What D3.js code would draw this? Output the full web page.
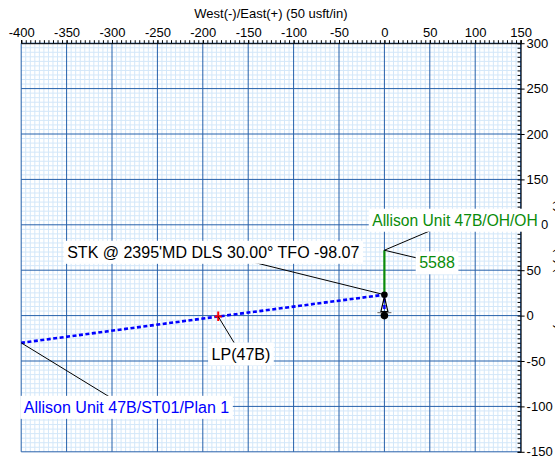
<!DOCTYPE html>
<html><head><meta charset="utf-8">
<script src="https://cdn.jsdelivr.net/npm/d3@7"></script>
<style>body{margin:0;background:#fff}svg{display:block}text{font-family:"Liberation Sans",Arial,sans-serif}</style>
</head><body>
<svg id="c" width="555" height="456"></svg>
<script>
// ---- data ----
const xTickValues = [-400,-350,-300,-250,-200,-150,-100,-50,0,50,100,150];
const yTickValues = [300,250,200,150,100,50,0,-50,-100,-150];
const xTitle = "West(-)/East(+) (50 usft/in)";
const yTitle = "South(-)/North(+) (50 usft/in)";
// planned sidetrack (blue dashed): from wellhead up to KOP, then west
const planX = [0, 0, -183, -400];
const planY = [0, 23, -1, -30];
// actual OH (green)
const ohX = [0, 0];
const ohY = [23, 72];
const stkPoint = [0, 23];
const lpPoint = [-183, -1];
const wellhead = [0, 0];
const labelTexts = ["Allison Unit 47B/OH/OH", "5588", "STK @ 2395'MD DLS 30.00° TFO -98.07", "LP(47B)", "Allison Unit 47B/ST01/Plan 1"];
const labelAnchorX = [0, 0, 0, -183, -400];
const labelAnchorY = [72, 72, 23, -1, -30];

// ---- layout ----
const svg = d3.select("#c");
const x = d3.scaleLinear().domain([-400,150]).range([21.2,520.6]);
const y = d3.scaleLinear().domain([300,-150]).range([43.2,451.8]);
const majorCol = "#2560aa", minorCol = "#d3e7f9";
const blue = "#0000ff", green = "#0a8c0a";

svg.append("rect").attr("width",555).attr("height",456).attr("fill","#fff");

const grid = svg.append("g");
const minorX = d3.range(-400,151,5), minorY = d3.range(-150,301,5);
grid.selectAll(".mx").data(minorX.filter(d=>d%50!==0)).join("line")
  .attr("x1",d=>x(d)).attr("x2",d=>x(d)).attr("y1",y(300)).attr("y2",y(-150))
  .attr("stroke",minorCol).attr("stroke-width",1);
grid.selectAll(".my").data(minorY.filter(d=>d%50!==0)).join("line")
  .attr("y1",d=>y(d)).attr("y2",d=>y(d)).attr("x1",x(-400)).attr("x2",x(150))
  .attr("stroke",minorCol).attr("stroke-width",1);
grid.selectAll(".Mx").data(xTickValues).join("line")
  .attr("x1",d=>x(d)).attr("x2",d=>x(d)).attr("y1",y(300)).attr("y2",y(-150))
  .attr("stroke",majorCol).attr("stroke-width",1);
grid.selectAll(".My").data(yTickValues).join("line")
  .attr("y1",d=>y(d)).attr("y2",d=>y(d)).attr("x1",x(-400)).attr("x2",x(150))
  .attr("stroke",majorCol).attr("stroke-width",1);

// top axis
const topMinor = svg.append("g").attr("transform",`translate(0,${y(300)})`)
  .call(d3.axisTop(x).tickValues(minorX).tickSize(3).tickFormat(""));
topMinor.selectAll("line").attr("stroke","#000");
topMinor.select(".domain").attr("stroke","#000");
const topAx = svg.append("g").attr("transform",`translate(0,${y(300)})`)
  .call(d3.axisTop(x).tickValues(xTickValues).tickSize(3).tickPadding(3).tickFormat(d=>String(d)));
topAx.select(".domain").remove();
topAx.selectAll("line").attr("stroke","#000");
topAx.selectAll("text").attr("font-size",13).attr("font-family",'"Liberation Sans",Arial,sans-serif').attr("fill","#000");

// right axis
const rMinor = svg.append("g").attr("transform",`translate(${x(150)},0)`)
  .call(d3.axisRight(y).tickValues(minorY).tickSize(-3).tickFormat(""));
rMinor.selectAll("line").attr("stroke","#000");
rMinor.select(".domain").attr("stroke","#000");
const rAx = svg.append("g").attr("transform",`translate(${x(150)},0)`)
  .call(d3.axisRight(y).tickValues(yTickValues).tickSize(4).tickPadding(2).tickFormat(d=>String(d)));
rAx.select(".domain").remove();
rAx.selectAll("line").attr("stroke","#000");
rAx.selectAll("text").attr("font-size",13).attr("font-family",'"Liberation Sans",Arial,sans-serif').attr("fill","#000");

// titles
svg.append("text").attr("x",(x(-400)+x(150))/2).attr("y",18).attr("text-anchor","middle")
  .attr("font-size",13).text(xTitle);
svg.append("text").attr("transform",`translate(556,${(y(300)+y(-150))/2}) rotate(90)`)
  .attr("text-anchor","middle").attr("font-size",13).text(yTitle);

// ---- wellpaths ----
const line = d3.line();
svg.append("path").attr("d",line(ohX.map((d,i)=>[x(d),y(ohY[i])])))
  .attr("stroke",green).attr("stroke-width",2.2).attr("fill","none");
svg.append("path").attr("d",line(planX.map((d,i)=>[x(d),y(planY[i])])))
  .attr("stroke",blue).attr("stroke-width",2.6).attr("stroke-dasharray","4,2.5").attr("fill","none");

// wellhead symbol
const wx = x(wellhead[0]), wy = y(wellhead[1]);
svg.append("path").attr("d",`M${wx},${wy-19}L${wx-3.5},${wy-4}L${wx+3.5},${wy-4}Z`)
  .attr("fill","none").attr("stroke","#000").attr("stroke-width",1.2);
svg.append("line").attr("x1",wx-7).attr("x2",wx+7).attr("y1",wy-3).attr("y2",wy-3)
  .attr("stroke","#777").attr("stroke-width",1.2);
svg.append("circle").attr("cx",wx).attr("cy",wy).attr("r",3.8).attr("fill","#000");

// STK dot
svg.append("circle").attr("cx",x(stkPoint[0])).attr("cy",y(stkPoint[1])).attr("r",3.3).attr("fill","#000");
// LP marker
const lx = x(lpPoint[0]), ly = y(lpPoint[1]);
svg.append("path").attr("d",`M${lx},${ly-5}V${ly+4.5}M${lx-3.5},${ly}H${lx+3.5}`)
  .attr("stroke","#ff0000").attr("stroke-width",2).attr("fill","none");

// ---- labels ----
const labelDx = [70.6, 52.6, -171.1, 22.7, 105.3];
const labelDy = [-24.5, 18.1, -36.9, 43.0, 70.0];
const labelSizes = [15.6, 16, 16, 16, 16];
const labelColors = [green, green, "#000", "#000", blue];
const lab = svg.append("g");
labelTexts.forEach((t,i)=>{
  const ax = x(labelAnchorX[i]), ay = y(labelAnchorY[i]);
  const tx = ax + labelDx[i], ty = ay + labelDy[i];
  const g = lab.append("g");
  const ln = g.append("line").attr("stroke","#000").attr("stroke-width",1);
  const rect = g.append("rect").attr("fill","#fff");
  const txt = g.append("text").attr("x",tx).attr("y",ty).attr("text-anchor","middle")
    .attr("font-size",labelSizes[i]).attr("fill",labelColors[i]).text(t);
  const bb = txt.node().getBBox();
  rect.attr("x",bb.x-3.5).attr("y",bb.y-3).attr("width",bb.width+7).attr("height",bb.height+6);
  ln.attr("x1",ax).attr("y1",ay).attr("x2",bb.x+bb.width/2).attr("y2",bb.y+bb.height/2);
});
</script>
</body></html>
